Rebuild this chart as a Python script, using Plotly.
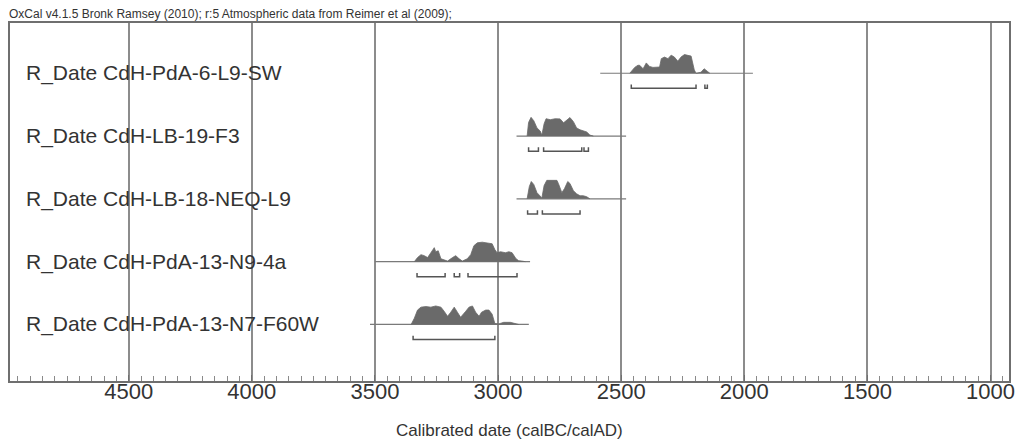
import plotly.graph_objects as go

# Sample names, top to bottom
names = [
    "R_Date CdH-PdA-6-L9-SW",
    "R_Date CdH-LB-19-F3",
    "R_Date CdH-LB-18-NEQ-L9",
    "R_Date CdH-PdA-13-N9-4a",
    "R_Date CdH-PdA-13-N7-F60W",
]

# Extent of each sample's baseline (cal BC)
line_start = [2585, 2925, 2925, 3500, 3520]
line_end = [1965, 2480, 2480, 2870, 2875]

# Calibrated probability distributions (cal BC, relative probability)
years_1 = [2465, 2445, 2432, 2425, 2411, 2398, 2385, 2371, 2344, 2337, 2324, 2310, 2297,
           2284, 2270, 2257, 2243, 2230, 2216, 2203, 2196, 2176, 2163, 2149, 2140]
prob_1 = [0, .30, .41, .41, .23, .53, .35, .30, .32, .75, .83, .75, .93,
          .83, .62, .83, .96, .93, .88, .17, 0, .05, .23, .09, 0]

years_2 = [2882, 2876, 2866, 2855, 2842, 2829, 2822, 2813, 2805, 2788, 2768, 2748, 2734,
           2721, 2708, 2694, 2681, 2667, 2654, 2640, 2627, 2613]
prob_2 = [0, .70, .96, .79, .42, .26, .05, .63, .89, .84, .89, .88, .68,
          .84, .95, .74, .42, .32, .26, .21, .05, 0]

years_3 = [2882, 2873, 2865, 2855, 2842, 2829, 2822, 2813, 2802, 2761, 2755, 2741, 2730,
           2717, 2708, 2694, 2681, 2667, 2654, 2640, 2627]
prob_3 = [0, .63, .89, .74, .32, .16, .05, .68, .95, .95, .79, .32, .53,
          .89, .79, .42, .26, .16, .16, .11, 0]

years_4 = [3340, 3327, 3313, 3300, 3286, 3273, 3259, 3253, 3243, 3232, 3219, 3205, 3185,
           3172, 3158, 3145, 3125, 3111, 3098, 3084, 3064, 3037, 3024, 3013, 3004, 2990,
           2970, 2956, 2943, 2927, 2916, 2903, 2889]
prob_4 = [0, .21, .36, .31, .21, .46, .72, .51, .56, .15, .10, .03, .21,
          .31, .15, .03, .15, .36, .82, .97, 1.0, .97, .92, .62, .46, .51,
          .46, .51, .46, .15, .05, .03, 0]

years_5 = [3353, 3340, 3327, 3313, 3293, 3273, 3253, 3232, 3219, 3205, 3192, 3178, 3165,
           3152, 3131, 3118, 3104, 3091, 3077, 3067, 3050, 3037, 3024, 3013, 2997, 2977,
           2950, 2930, 2916]
prob_5 = [0, .32, .74, .89, .92, .89, .95, .89, .68, .42, .63, .89, .63,
          .37, .68, .89, .95, .63, .42, .63, .74, .74, .53, .05, .03, .11,
          .11, .03, 0]

# Highest posterior density ranges (cal BC)
ranges_1 = [(2459, 2196), (2160, 2150)]
ranges_2 = [(2876, 2836), (2815, 2660), (2651, 2633)]
ranges_3 = [(2880, 2840), (2820, 2667)]
ranges_4 = [(3329, 3215), (3178, 3156), (3122, 2923)]
ranges_5 = [(3345, 3013)]

tick_values = [4500, 4000, 3500, 3000, 2500, 2000, 1500, 1000]

years = [years_1, years_2, years_3, years_4, years_5]
probs = [prob_1, prob_2, prob_3, prob_4, prob_5]
ranges = [ranges_1, ranges_2, ranges_3, ranges_4, ranges_5]

FONT = "Liberation Sans, Arial, sans-serif"
TEXT = "#333333"
GRID = "#8c8c8c"
FILL = "#6a6a6a"

peak = 0.31      # height of a probability of 1, in row units
bar_drop = 0.24  # offset of the range bars below the baseline
bar_tick = 0.06  # height of the end ticks on range bars

fig = go.Figure()

for i, name in enumerate(names):
    row = len(names) - i

    # baseline
    fig.add_trace(go.Scatter(
        x=[line_start[i], line_end[i]], y=[row, row], mode="lines",
        line=dict(color="#7a7a7a", width=1.2), hoverinfo="skip", showlegend=False))

    # distribution
    fig.add_trace(go.Scatter(
        x=years[i], y=[row + p * peak for p in probs[i]], mode="lines",
        fill="toself", fillcolor=FILL, line=dict(color=FILL, width=0.8),
        hoverinfo="skip", showlegend=False))

    # range bars
    yb = row - bar_drop
    bx, by = [], []
    for a, b in ranges[i]:
        bx += [a, a, b, b, None]
        by += [yb + bar_tick, yb, yb, yb + bar_tick, None]
    fig.add_trace(go.Scatter(
        x=bx, y=by, mode="lines", line=dict(color="#555555", width=1.5),
        hoverinfo="skip", showlegend=False))

    fig.add_annotation(
        x=14 / 1005, xref="paper", y=row, yref="y", text=name,
        xanchor="left", yanchor="middle", showarrow=False,
        font=dict(family=FONT, size=21, color=TEXT))

fig.add_annotation(
    x=0.5, xref="paper", y=-0.137, yref="paper",
    text="Calibrated date (calBC/calAD)", showarrow=False,
    xanchor="center", yanchor="middle",
    font=dict(family=FONT, size=17, color=TEXT))

fig.add_annotation(
    x=-0.003, xref="paper", y=1.0, yref="paper",
    text="OxCal v4.1.5 Bronk Ramsey (2010); r:5 Atmospheric data from Reimer et al (2009);",
    showarrow=False, xanchor="left", yanchor="bottom",
    font=dict(family=FONT, size=12, color=TEXT))

fig.update_xaxes(
    range=[4982, 925], tickvals=tick_values, ticktext=[str(v) for v in tick_values],
    showgrid=True, gridcolor=GRID, gridwidth=1.5,
    showline=True, linecolor="#6f6f6f", linewidth=1.5, mirror=True,
    ticks="inside", ticklen=6, tickcolor="#6f6f6f", ticklabelstandoff=-10,
    minor=dict(dtick=50, tick0=0, ticks="inside", ticklen=5, tickcolor="#8a8a8a",
               showgrid=False),
    tickfont=dict(family=FONT, size=22, color=TEXT), zeroline=False)

fig.update_yaxes(
    range=[0.10, 5.80], showgrid=False, showticklabels=False, ticks="",
    showline=True, linecolor="#6f6f6f", linewidth=1.5, mirror=True, zeroline=False)

fig.update_layout(
    width=1023, height=445,
    margin=dict(l=10, r=8, t=23, b=64),
    paper_bgcolor="white", plot_bgcolor="white",
    showlegend=False)

fig.write_html("out.html")
